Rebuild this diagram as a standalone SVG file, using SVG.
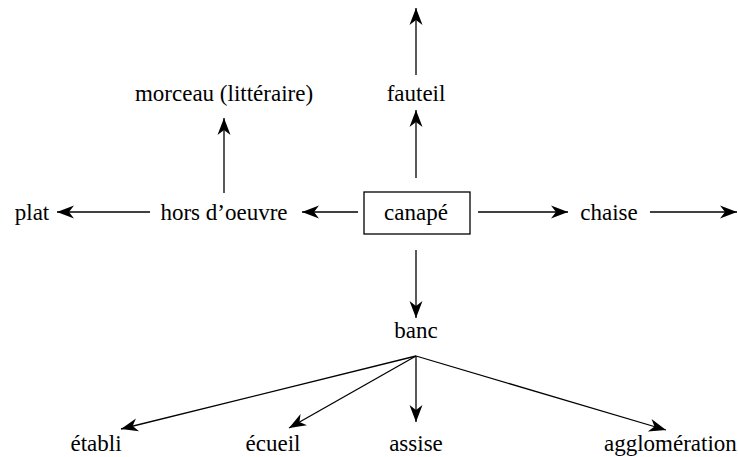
<svg xmlns="http://www.w3.org/2000/svg" width="738" height="457" viewBox="0 0 738 457">
<style>
text{font-family:'Liberation Serif','Times New Roman','DejaVu Serif',serif;font-size:23px;fill:#000;text-anchor:middle}
.c{stroke:#000;stroke-width:1.3;fill:none;marker-end:url(#ah)}
</style>
<defs>
<marker id="ah" markerUnits="userSpaceOnUse" viewBox="-18 -8 19 16" refX="0" refY="0" markerWidth="19" markerHeight="16" orient="auto">
<path d="M0,0 L-17,-6.5 L-12,0 L-17,6.5 Z" fill="#000"/>
</marker>
</defs>
<rect width="738" height="457" fill="#fff"/>
<g id="connectors">
<line class="c" x1="478" y1="212" x2="568" y2="212"/>
<line class="c" x1="650" y1="212" x2="737" y2="212"/>
<line class="c" x1="358" y1="212" x2="302" y2="212"/>
<line class="c" x1="150" y1="212" x2="57" y2="212"/>
<line class="c" x1="224" y1="193" x2="224" y2="118"/>
<line class="c" x1="416" y1="178" x2="416" y2="110"/>
<line class="c" x1="416" y1="75" x2="416" y2="8"/>
<line class="c" x1="416" y1="250" x2="416" y2="318"/>
<line class="c" x1="416" y1="356" x2="121" y2="429"/>
<line class="c" x1="416" y1="356" x2="289" y2="428"/>
<line class="c" x1="416" y1="356" x2="416" y2="422"/>
<line class="c" x1="416" y1="356" x2="666" y2="430"/>
</g>
<g id="canape"><rect x="364" y="192" width="106" height="42" fill="none" stroke="#000" stroke-width="1.3"/><text x="416" y="220" font-family="Liberation Serif, serif">canapé</text></g>
<g id="chaise"><text x="609" y="220">chaise</text></g>
<g id="hors"><text x="224" y="220">hors d’oeuvre</text></g>
<g id="plat"><text x="32" y="220">plat</text></g>
<g id="morceau"><text x="224" y="101">morceau (littéraire)</text></g>
<g id="fauteil"><text x="416" y="101">fauteil</text></g>
<g id="banc"><text x="416" y="338">banc</text></g>
<g id="etabli"><text x="96" y="451">établi</text></g>
<g id="ecueil"><text x="273" y="451">écueil</text></g>
<g id="assise"><text x="416" y="451">assise</text></g>
<g id="agglomeration"><text x="604" y="451" style="text-anchor:start">agglomération</text></g>
</svg>
